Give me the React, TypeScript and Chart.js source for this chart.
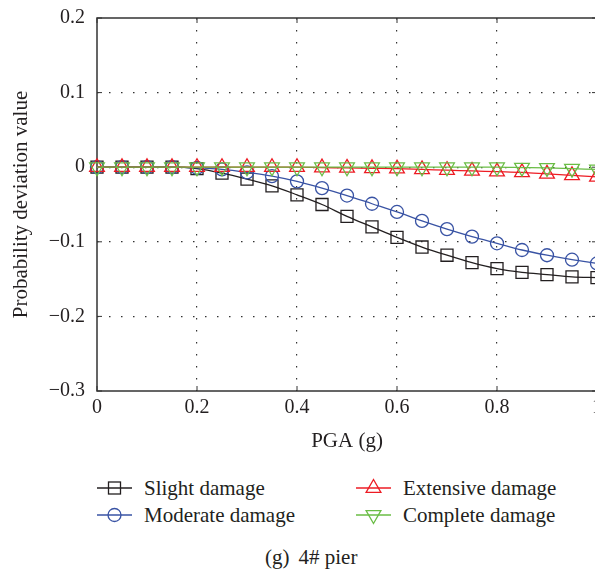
import React, { useEffect, useRef } from 'react';
import { Chart, registerables } from 'chart.js';

Chart.register(...registerables);

// ---- data ----
const pga = [0, 0.05, 0.1, 0.15, 0.2, 0.25, 0.3, 0.35, 0.4, 0.45, 0.5, 0.55, 0.6, 0.65, 0.7, 0.75, 0.8, 0.85, 0.9, 0.95, 1.0];
const slightDamage = [0, 0, 0, 0, -0.002, -0.008, -0.016, -0.025, -0.037, -0.05, -0.066, -0.08, -0.094, -0.107, -0.118, -0.128, -0.136, -0.141, -0.144, -0.147, -0.148];
const moderateDamage = [0, 0, 0, 0, -0.001, -0.003, -0.007, -0.012, -0.019, -0.028, -0.038, -0.049, -0.06, -0.072, -0.083, -0.093, -0.102, -0.111, -0.118, -0.124, -0.129];
const extensiveDamage = [0, 0, 0, 0, 0, 0, 0, 0, 0, -0.0005, -0.001, -0.0015, -0.002, -0.003, -0.004, -0.005, -0.006, -0.007, -0.009, -0.011, -0.013];
const completeDamage = [0, 0, 0, 0, 0, 0, 0, 0, 0, 0, 0, 0, 0, 0, 0, 0, 0, -0.0005, -0.001, -0.002, -0.003];

const xTicks = [0, 0.2, 0.4, 0.6, 0.8, 1];
const xTickLabels = ['0', '0.2', '0.4', '0.6', '0.8', '1'];
const yTicks = [-0.3, -0.2, -0.1, 0, 0.1, 0.2];
const yTickLabels = ['\u22120.3', '\u22120.2', '\u22120.1', '0', '0.1', '0.2'];

const seriesNames = ['Slight damage', 'Moderate damage', 'Extensive damage', 'Complete damage'];
const COLORS = { slight: '#231f20', moderate: '#3953a4', extensive: '#ed1c24', complete: '#6abd45' };

const FONT = '"Liberation Serif", "Times New Roman", serif';
const TEXT = '#231f20';

const framePlugin = {
  id: 'frame',
  beforeDatasetsDraw(chart: any) {
    const { ctx, chartArea, scales } = chart;
    const { left, right, top, bottom } = chartArea;
    ctx.save();
    ctx.strokeStyle = '#333';
    ctx.lineWidth = 1.5;
    ctx.strokeRect(left, top, right - left, bottom - top);
    ctx.lineWidth = 1;
    ctx.beginPath();
    xTicks.forEach((v) => {
      const px = scales.x.getPixelForValue(v);
      ctx.moveTo(px, bottom);
      ctx.lineTo(px, bottom - 5);
      ctx.moveTo(px, top);
      ctx.lineTo(px, top + 5);
    });
    yTicks.forEach((v) => {
      const py = scales.y.getPixelForValue(v);
      ctx.moveTo(left, py);
      ctx.lineTo(left + 5, py);
      ctx.moveTo(right, py);
      ctx.lineTo(right - 5, py);
    });
    ctx.stroke();
    ctx.restore();
  },
};

function LegendIcon({ kind, color }: { kind: string; color: string }) {
  let marker: any = null;
  if (kind === 'rect') marker = <rect x={11.5} y={4} width={12} height={12} fill="none" stroke={color} strokeWidth={1.3} />;
  else if (kind === 'circle') marker = <circle cx={17.5} cy={10} r={6.5} fill="none" stroke={color} strokeWidth={1.3} />;
  else if (kind === 'tri') marker = <polygon points="17.5,1.5 24.9,14.3 10.1,14.3" fill="none" stroke={color} strokeWidth={1.3} />;
  else marker = <polygon points="17.5,18.5 24.9,5.7 10.1,5.7" fill="none" stroke={color} strokeWidth={1.3} />;
  return (
    <svg width={35} height={20} style={{ position: 'absolute', left: 0, top: 2 }}>
      <line x1={0} y1={10} x2={35} y2={10} stroke={color} strokeWidth={1.3} />
      {marker}
    </svg>
  );
}

function LegendItem({ left, top, kind, color, label }: any) {
  return (
    <div style={{ position: 'absolute', left, top, height: 24, width: 260 }}>
      <LegendIcon kind={kind} color={color} />
      <span style={{ position: 'absolute', left: 47, top: 0, font: `21px ${FONT}`, lineHeight: '24px', color: TEXT, whiteSpace: 'nowrap' }}>{label}</span>
    </div>
  );
}

export default function App() {
  const canvasRef = useRef<HTMLCanvasElement | null>(null);

  useEffect(() => {
    if (!canvasRef.current) return;
    const mk = (label: string, data: number[], color: string, style: string, radius: number, rotation: number, order: number) => ({
      label,
      data: pga.map((x, i) => ({ x, y: data[i] })),
      borderColor: color,
      backgroundColor: 'rgba(0,0,0,0)',
      borderWidth: 1.3,
      pointStyle: style,
      pointRadius: radius,
      pointRotation: rotation,
      pointBorderColor: color,
      pointBackgroundColor: 'rgba(0,0,0,0)',
      pointBorderWidth: 1.3,
      tension: 0.35,
      cubicInterpolationMode: 'monotone',
      clip: false,
      order,
    });
    const chart = new Chart(canvasRef.current, {
      type: 'line',
      data: {
        datasets: [
          mk(seriesNames[0], slightDamage, COLORS.slight, 'rect', 8.5, 0, 3),
          mk(seriesNames[1], moderateDamage, COLORS.moderate, 'circle', 6.5, 0, 2),
          mk(seriesNames[2], extensiveDamage, COLORS.extensive, 'triangle', 8.5, 0, 1),
          mk(seriesNames[3], completeDamage, COLORS.complete, 'triangle', 8.5, 180, 0),
        ] as any,
      },
      options: {
        responsive: false,
        maintainAspectRatio: false,
        animation: false,
        layout: { padding: { left: 0, right: 23, top: 18, bottom: 0 } },
        plugins: { legend: { display: false }, tooltip: { enabled: false } },
        scales: {
          x: {
            type: 'linear',
            min: 0,
            max: 1,
            afterBuildTicks: (s: any) => { s.ticks = xTicks.map((v) => ({ value: v })); },
            afterFit: (s: any) => { s.height = 63; s.paddingLeft = 0; s.paddingRight = 0; },
            ticks: {
              callback: (_v: any, i: number) => xTickLabels[i],
              font: { family: FONT, size: 20 },
              color: TEXT,
              padding: 5,
              maxRotation: 0,
              autoSkip: false,
            },
            grid: {
              drawTicks: false,
              lineWidth: 1.2,
              color: (c: any) => (c.tick && (c.tick.value === 0 || c.tick.value === 1) ? 'rgba(0,0,0,0)' : '#333'),
            },
            border: { display: false, dash: [1.5, 10.5] },
            title: { display: true, text: 'PGA (g)', font: { family: FONT, size: 21 }, color: TEXT, padding: { top: 0, bottom: 0 } },
          },
          y: {
            type: 'linear',
            min: -0.3,
            max: 0.2,
            afterBuildTicks: (s: any) => { s.ticks = yTicks.map((v) => ({ value: v })); },
            afterFit: (s: any) => { s.width = 97; s.paddingTop = 0; s.paddingBottom = 0; },
            ticks: {
              callback: (_v: any, i: number) => yTickLabels[i],
              font: { family: FONT, size: 20 },
              color: TEXT,
              padding: 12,
              autoSkip: false,
            },
            grid: {
              drawTicks: false,
              lineWidth: 1.2,
              color: (c: any) => (c.tick && (Math.abs(c.tick.value + 0.3) < 1e-9 || Math.abs(c.tick.value - 0.2) < 1e-9) ? 'rgba(0,0,0,0)' : '#333'),
            },
            border: { display: false, dash: [1.5, 10.5] },
            title: { display: true, text: 'Probability deviation value', font: { family: FONT, size: 21 }, color: TEXT, padding: { top: 9, bottom: 0 } },
          },
        },
      },
      plugins: [framePlugin],
    } as any);
    return () => chart.destroy();
  }, []);

  return (
    <div style={{ position: 'absolute', left: 0, top: 0, width: 595, height: 569, overflow: 'hidden', background: '#fff' }}>
      <canvas ref={canvasRef} width={620} height={454} style={{ position: 'absolute', left: 0, top: 0, width: 620, height: 454 }} />
      <LegendItem left={97} top={476} kind="rect" color={COLORS.slight} label={seriesNames[0]} />
      <LegendItem left={97} top={503} kind="circle" color={COLORS.moderate} label={seriesNames[1]} />
      <LegendItem left={356} top={476} kind="tri" color={COLORS.extensive} label={seriesNames[2]} />
      <LegendItem left={356} top={503} kind="itri" color={COLORS.complete} label={seriesNames[3]} />
      <div style={{ position: 'absolute', left: 265, top: 545, font: `21px ${FONT}`, lineHeight: '24px', color: TEXT, whiteSpace: 'nowrap' }}>
        (g)<span style={{ marginLeft: 9 }}>4# pier</span>
      </div>
    </div>
  );
}
